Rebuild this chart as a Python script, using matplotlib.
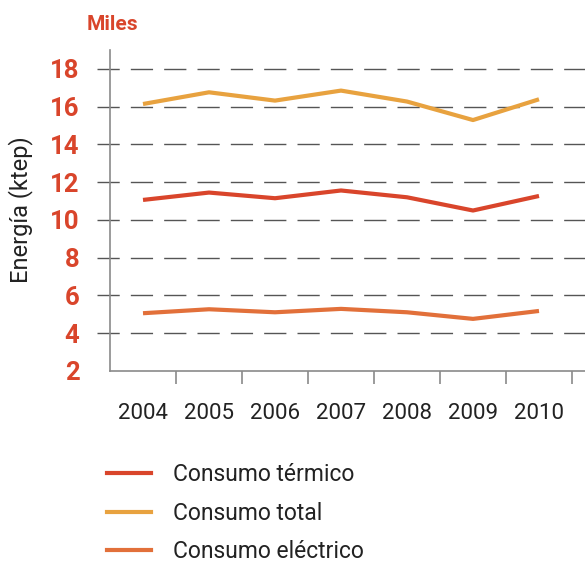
import matplotlib
matplotlib.use("Agg")
import matplotlib.pyplot as plt
from matplotlib.lines import Line2D

plt.rcParams['font.family'] = ['Roboto', 'DejaVu Sans']

years = ['2004', '2005', '2006', '2007', '2008', '2009', '2010']
termico = [11.06, 11.45, 11.15, 11.56, 11.20, 10.50, 11.27]
total = [16.14, 16.76, 16.32, 16.85, 16.27, 15.29, 16.39]
electrico = [5.06, 5.27, 5.11, 5.29, 5.11, 4.76, 5.18]
yticks = [2, 4, 6, 8, 10, 12, 14, 16, 18]

RED = '#d9452b'
YELLOW = '#e8a23f'
ORANGE = '#e2703a'
GRAY = '#8a8a8a'
TEXT = '#222222'

fig = plt.figure(figsize=(5.85, 5.65), dpi=100)
ax = fig.add_axes([97 / 585, 194 / 565, 488 / 585, 321 / 565])

x = list(range(len(years)))
ax.plot(x, termico, color=RED, lw=3, solid_capstyle='butt', zorder=3)
ax.plot(x, total, color=YELLOW, lw=3, solid_capstyle='butt', zorder=3)
ax.plot(x, electrico, color=ORANGE, lw=3, solid_capstyle='butt', zorder=3)

ax.set_xlim(-0.697, 6.697)
ax.set_ylim(2, 19)

# dashed grid lines, they run a bit past the y axis on the left
for v in yticks[1:]:
    ax.axhline(v, color='#555555', lw=1, dashes=(16, 8), zorder=1)

for s in ['top', 'right']:
    ax.spines[s].set_visible(False)
ax.spines['left'].set_position(('data', -0.5))
ax.spines['left'].set_bounds(2, 19)
ax.spines['bottom'].set_bounds(-0.5, 6.697)
for s in ['left', 'bottom']:
    ax.spines[s].set_color(GRAY)
    ax.spines[s].set_linewidth(1.2)
    ax.spines[s].set_zorder(4)

ax.set_yticks(yticks)
ax.set_yticklabels([str(v) for v in yticks])
ax.tick_params(axis='y', length=0, pad=22, labelsize=18.5, labelcolor=RED)
for lab in ax.get_yticklabels():
    lab.set_fontweight('bold')

ax.set_xticks(x)
ax.set_xticklabels(years)
ax.set_xticks([i + 0.5 for i in x], minor=True)
ax.tick_params(axis='x', which='major', length=0, pad=23, labelsize=16, labelcolor=TEXT)
ax.tick_params(axis='x', which='minor', length=9.5, width=1.2, color=GRAY, direction='out')

fig.text(21 / 585, 1 - 210 / 565, 'Energía (ktep)', rotation=90, ha='center', va='center',
         fontsize=17, color=TEXT)
fig.text(112 / 585, 1 - 24 / 565, 'Miles', ha='center', va='center',
         fontsize=15, fontweight='bold', color=RED)

handles = [Line2D([], [], color=RED, lw=3),
           Line2D([], [], color=YELLOW, lw=3),
           Line2D([], [], color=ORANGE, lw=3)]
labels = ['Consumo térmico', 'Consumo total', 'Consumo eléctrico']
fig.legend(handles, labels, loc='upper left', bbox_to_anchor=(107 / 585, 1 - 463 / 565),
           frameon=False, fontsize=16.5, handlelength=1.9, handletextpad=0.97,
           labelspacing=0.68, borderpad=0, borderaxespad=0, labelcolor=TEXT)

fig.savefig('out.png', dpi=100)
